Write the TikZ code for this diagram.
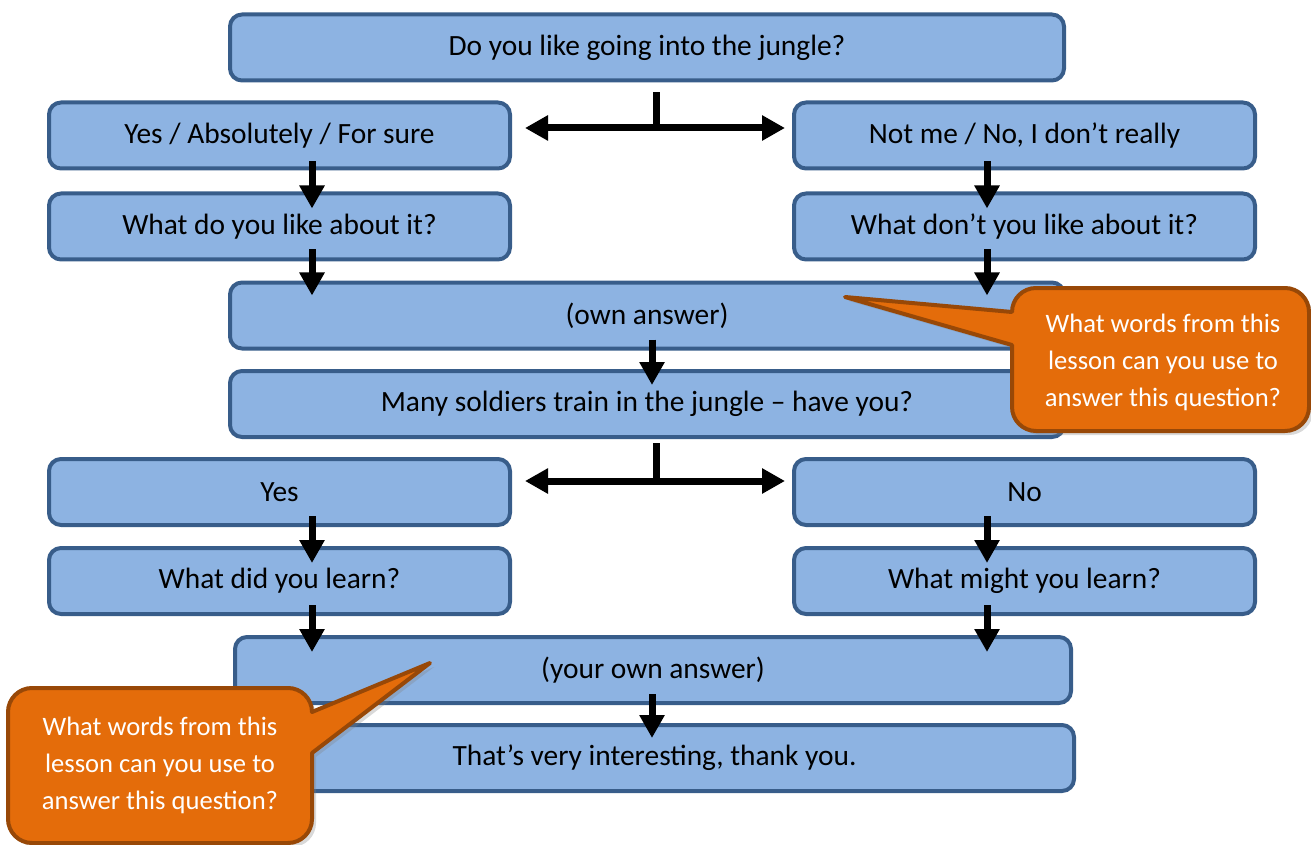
\documentclass[tikz,border=0pt]{standalone}
\usepackage{fontspec}
\setmainfont{Carlito}
\usetikzlibrary{arrows.meta,shadows}

\definecolor{boxblue}{HTML}{8DB3E2}
\definecolor{boxline}{HTML}{385D8A}
\definecolor{tipfill}{HTML}{E46C0A}
\definecolor{tipline}{HTML}{984807}

\tikzset{
	qbox/.style={draw=boxline, fill=boxblue, line width=2pt, rounded corners=6pt, minimum height=33pt, font=\fontsize{14.7}{17}\selectfont},
	wide/.style={qbox, minimum width=417pt},
	half/.style={qbox, minimum width=230.5pt},
	arr/.style={line width=3.5pt, -{Triangle[width=12pt,length=11.5pt]}},
	twoway/.style={line width=3.5pt, {Triangle[width=12pt,length=11.5pt]}-{Triangle[width=12pt,length=11.5pt]}},
	tipbox/.style={fill=tipfill, draw=tipline, line width=2pt, line join=round, drop shadow={opacity=0.3, shadow xshift=2pt, shadow yshift=-2pt}},
	tiptext/.style={text=white, align=center, font=\fontsize{13.3}{18.5}\selectfont}
}

\begin{document}
\begin{tikzpicture}[x=0.5pt, y=-0.5pt]
		\useasboundingbox (0, 0) rectangle (1311, 845);
		\clip (0, 0) rectangle (1311, 845);
		
		\node[wide] (top) at (647, 47.5) {Do you like going into the jungle?};
		\node[half] (yesA) at (279.5, 135.5) {Yes / Absolutely / For sure};
		\node[half] (noA) at (1024.5, 135.5) {Not me / No, I don’t really};
		\node[half] (like) at (279.5, 226.5) {What do you like about it?};
		\node[half] (dislike) at (1024.5, 226.5) {What don’t you like about it?};
		\node[wide] (own) at (647, 315.5) {(own answer)};
		\node[wide] (soldiers) at (647, 404) {Many soldiers train in the jungle – have you?};
		\node[half] (yesB) at (279.5, 492) {Yes};
		\node[half] (noB) at (1024.5, 492) {No};
		\node[half] (learnt) at (279.5, 581) {What did you learn?};
		\node[half] (might) at (1024.5, 581) {What might you learn?};
		\node[wide, minimum width=418pt] (yours) at (653, 670) {(your own answer)};
		\node[wide, minimum width=419.5pt] (thanks) at (654.5, 758) {That’s very interesting, thank you.};
		
		\draw[line width=3.5pt] ([xshift=4.5pt, yshift=-5pt]top.south) -- ([xshift=4.5pt, yshift=3.75pt]top.south |- yesA.east);
		\draw[twoway] ([xshift=6.5pt, yshift=3.75pt]yesA.east) -- ([xshift=-3.5pt, yshift=3.75pt]noA.west);
		\draw[arr] ([xshift=16.25pt, yshift=4.5pt]yesA.south) -- ([xshift=16.25pt, yshift=-8.5pt]like.north);
		\draw[arr] ([xshift=-18.75pt, yshift=4.5pt]noA.south) -- ([xshift=-18.75pt, yshift=-8.5pt]dislike.north);
		\draw[arr] ([xshift=16.25pt, yshift=6pt]like.south) -- ([xshift=-167.5pt, yshift=-7.5pt]own.north);
		\draw[arr] ([xshift=-18.75pt, yshift=6pt]dislike.south) -- ([xshift=170pt, yshift=-7.5pt]own.north);
		\draw[arr] ([xshift=2.5pt, yshift=5.5pt]own.south) -- ([xshift=2.5pt, yshift=-8pt]soldiers.north);
		
		\draw[line width=3.5pt] ([xshift=4.5pt, yshift=-2pt]soldiers.south) -- ([xshift=4.5pt, yshift=5.5pt]soldiers.south |- yesB.east);
		\draw[twoway] ([xshift=6.5pt, yshift=5.5pt]yesB.east) -- ([xshift=-3.5pt, yshift=5.5pt]noB.west);
		\draw[arr] ([xshift=16.25pt, yshift=5.5pt]yesB.south) -- ([xshift=16.25pt, yshift=-8.5pt]learnt.north);
		\draw[arr] ([xshift=-18.75pt, yshift=5.5pt]noB.south) -- ([xshift=-18.75pt, yshift=-8.5pt]might.north);
		\draw[arr] ([xshift=16.25pt, yshift=5.5pt]learnt.south) -- ([xshift=-170.5pt, yshift=-8.5pt]yours.north);
		\draw[arr] ([xshift=-18.75pt, yshift=5.5pt]might.south) -- ([xshift=167pt, yshift=-8.5pt]yours.north);
		\draw[arr] ([xshift=-0.5pt, yshift=5.5pt]yours.south) -- ([xshift=-1.25pt, yshift=-7.5pt]thanks.north);
		
		\draw[tipbox] (1160, 288) [rounded corners=12pt] -- (1012, 288) [sharp corners] -- (1012, 312) -- (845, 297) -- (1012, 345) [rounded corners=12pt] -- (1012, 431) -- (1309, 431) -- (1309, 288) -- cycle;
		\node[tiptext] (tipA) at (1163, 362) {What words from this\\lesson can you use to\\answer this question?};
		
		\draw[tipbox] (160, 688) [rounded corners=12pt] -- (312, 688) [sharp corners] -- (312, 712) -- (430, 663) -- (312, 753) [rounded corners=12pt] -- (312, 843) -- (8, 843) -- (8, 688) -- cycle;
		\node[tiptext] (tipB) at (160, 765) {What words from this\\lesson can you use to\\answer this question?};
	\end{tikzpicture}
\end{document}
